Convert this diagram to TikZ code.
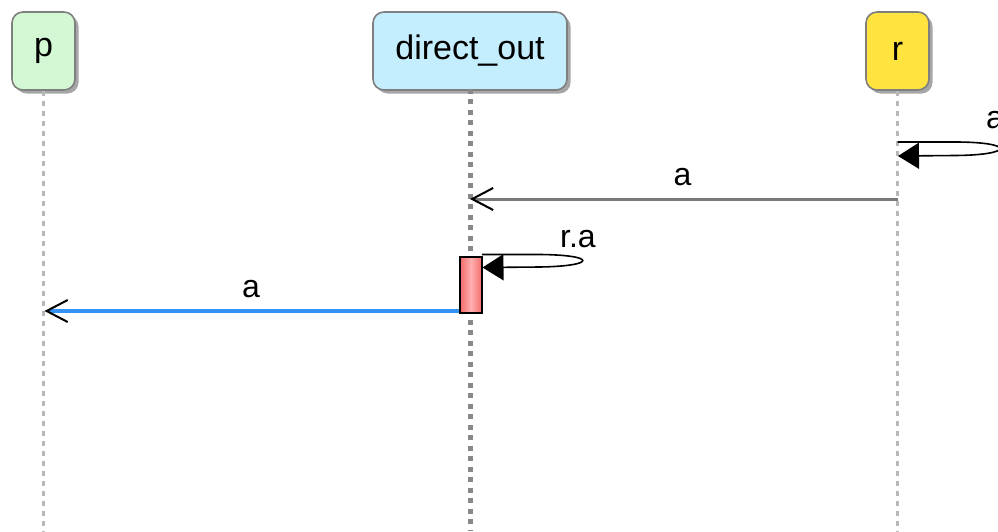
\documentclass[tikz,border=0pt]{standalone}
\usepackage{fontspec}
\setmainfont{Liberation Sans}
\usetikzlibrary{arrows.meta,shadows}
\definecolor{pgreen}{HTML}{D3F8D3}
\definecolor{pblue}{HTML}{C4EEFD}
\definecolor{pyellow}{HTML}{FFE33F}
\definecolor{pborder}{HTML}{7F7F7F}
\definecolor{lifegray}{HTML}{B8B8B8}
\definecolor{lifedark}{HTML}{888888}
\definecolor{msggray}{HTML}{7A7A7A}
\definecolor{msgblue}{HTML}{3393F5}
\definecolor{actred}{HTML}{F46A6A}
\definecolor{actlight}{HTML}{FFB0B0}
\begin{document}
\begin{tikzpicture}[x=1pt,y=-1pt,
  part/.style={draw=pborder, line width=1.6pt, rounded corners=11pt,
    minimum height=78pt, inner sep=0pt,
    font=\fontsize{34}{40}\selectfont,
    drop shadow={shadow xshift=3.5pt, shadow yshift=-3.5pt, fill=black, opacity=0.35}},
  life/.style={lifegray, line width=2.5pt, dash pattern=on 5pt off 5pt},
  lifethick/.style={lifedark, line width=5pt, dash pattern=on 5pt off 5.5pt},
  msg/.style={line width=3pt, -{Straight Barb[length=21pt, width=22pt, line width=2pt, black]}},
  selfmsg/.style={black, line width=1.6pt, -{Triangle[length=21pt, width=26pt, black]}},
  lbl/.style={inner sep=0pt, font=\fontsize{32}{38}\selectfont}]
\useasboundingbox (0,0) rectangle (998,531);
% participants
\node[part, fill=pgreen, minimum width=63pt] (p) at (43.5,51) {p};
\node[part, fill=pblue, minimum width=194pt] (d) at (470,51) {direct\_out};
\node[part, fill=pyellow, minimum width=63pt] (r) at (897.5,51) {r};
% lifeline ends
\coordinate (pb) at (43.5,531);
\coordinate (db) at (470,531);
\coordinate (rb) at (897.5,531);
\draw[life] (p.south) -- (pb);
\draw[lifethick] ([yshift=2pt]d.south) -- (db);
\draw[life] (r.south) -- (rb);
% self message on r
\coordinate (rs1) at (897.5,142);
\coordinate (rs2) at (898,156);
\draw[selfmsg] (rs1) -- (955,142) .. controls (1015,142) and (1015,155) .. (955,155.5) -- (rs2);
\node[lbl, anchor=base west] (la1) at (986,128) {a};
% message r -> direct_out
\coordinate (rm) at (897.5,199);
\coordinate (dm) at (470,199);
\draw[msg, msggray] (rm) -- (dm);
\node[lbl, anchor=base] (la2) at (682.5,185) {a};
% activation
\node[draw=black, line width=1.6pt, left color=actred, right color=actred, middle color=actlight,
  minimum width=22pt, minimum height=56pt, inner sep=0pt] (act) at (471,285) {};
% self message on direct_out
\coordinate (ds1) at (482,254.5);
\coordinate (ds2) at (482.5,267.5);
\draw[selfmsg] (ds1) -- (540,254.5) .. controls (597,255) and (597,266) .. (540,267) -- (ds2);
\node[lbl, anchor=base west] (la3) at (560,247) {r.a};
% blue message to p
\coordinate (pm) at (44.5,311);
\draw[msg, msgblue, line width=4.5pt] (act.south west |- 0,311) -- (pm);
\node[lbl, anchor=base] (la4) at (251,297) {a};
\end{tikzpicture}
\end{document}
